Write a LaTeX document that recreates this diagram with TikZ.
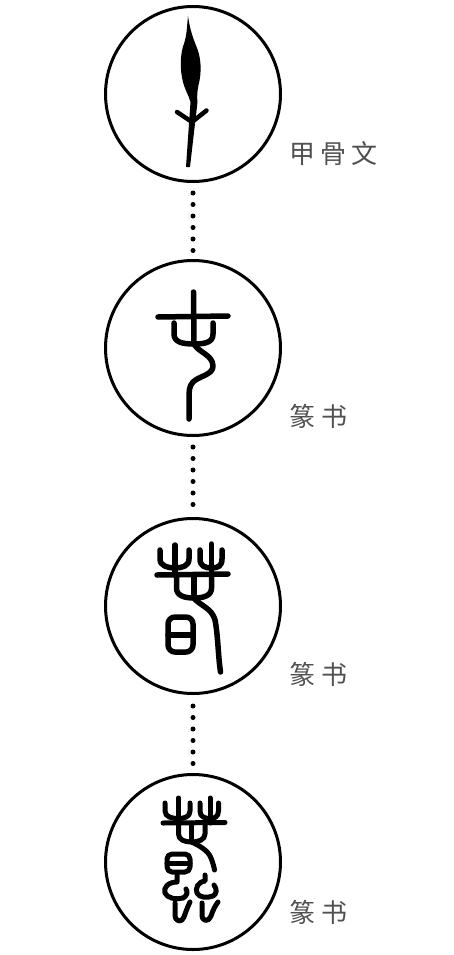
\documentclass[tikz,border=0pt]{standalone}
\usepackage{fontspec}
\usepackage{xcolor}
\newfontfamily\cjk{Noto Sans CJK SC}
\definecolor{labelgray}{HTML}{505050}

\begin{document}
\begin{tikzpicture}[x=1pt, y=-1pt, line cap=round, line join=round,
  ring/.style={circle, draw, line width=3pt, minimum size=175pt, inner sep=0pt},
  linkdots/.style={line width=5pt, dash pattern=on 0pt off 11.5pt},
  gstroke/.style={line width=5.5pt},
  sstroke/.style={line width=5pt},
  lbl/.style={anchor=west, inner sep=0pt, text=labelgray, font=\cjk\fontsize{26}{26}\selectfont}]
  \useasboundingbox (0,0) rectangle (453,955);

  % Circles
  \node[ring] (c1) at (193,94) {};
  \node[ring] (c2) at (193,348) {};
  \node[ring] (c3) at (193,606) {};
  \node[ring] (c4) at (193,862) {};

  % Dotted links
  \draw[linkdots, shorten <=10pt, shorten >=8pt] (c1) -- (c2);
  \draw[linkdots, shorten <=10pt, shorten >=12pt] (c2) -- (c3);
  \draw[linkdots, shorten <=11pt, shorten >=9pt] (c3) -- (c4);

  % Labels
  \node[lbl] (l1) at (289,154) {甲\hspace{5pt}骨\hspace{5pt}文};
  \node[lbl] (l2) at (289,416) {篆\hspace{6pt}书};
  \node[lbl] (l3) at (289,674) {篆\hspace{6pt}书};
  \node[lbl] (l4) at (289,912) {篆\hspace{6pt}书};

  % Oracle bone form
  \fill (188,16) .. controls (190,30) and (193,38) .. (197,48)
    .. controls (201,58) and (202,72) .. (198.5,85)
    .. controls (197,92) and (197,98) .. (197.5,102)
    -- (190,167) -- (186,167) -- (190.5,102)
    .. controls (189,96) and (185,90) .. (183,82)
    .. controls (180,70) and (179.5,55) .. (184.5,42)
    .. controls (187,34) and (187,25) .. (188,16) -- cycle;
  \draw[line width=4.5pt] (177,112) -- (192,122) -- (206.5,110.5);

  % Seal form 1
  \draw[gstroke] (158,317) -- (228,316);
  \draw[gstroke] (193.5,292) -- (194,343);
  \draw[gstroke] (174,323) -- (174,334) .. controls (174,342) and (182,344) .. (194,344)
    .. controls (206,344) and (213,342) .. (213,334) -- (213,323);
  \draw[gstroke] (194,344) .. controls (198,352) and (213,355) .. (213,366)
    .. controls (213,375) and (199,376) .. (193,382)
    .. controls (189,386) and (189,392) .. (189,398) -- (189,419);

  % Seal form 2
  \draw[gstroke] (157,575) -- (228,574);
  \draw[gstroke] (175,545) -- (175,575);
  \draw[gstroke] (160,550) -- (160,559) .. controls (160,566) and (168,568) .. (175,568)
    .. controls (182,568) and (189,566) .. (189,559) -- (189,550);
  \draw[gstroke] (211.5,544) -- (211.5,575);
  \draw[gstroke] (200,550) -- (200,559) .. controls (200,566) and (205,568) .. (211.5,568)
    .. controls (218,568) and (222,566) .. (222,559) -- (222,550);
  \draw[gstroke] (176.5,575) -- (176.5,588) .. controls (176.5,596) and (185,598) .. (194,598)
    .. controls (203,598) and (211.5,596) .. (211.5,588) -- (211.5,575);
  \draw[gstroke] (194,575) -- (194,598);
  \draw[gstroke] (194,598) .. controls (199,605) and (212,608) .. (215,620)
    .. controls (218,635) and (218,655) .. (220.5,672);
  \draw[gstroke, rounded corners=7pt] (168,617) rectangle (193,652);
  \draw[gstroke] (168,635) -- (193,635);

  % Seal form 3
  \draw[sstroke] (163,823) -- (225,822.5);
  \draw[sstroke] (178.5,798) -- (178.5,823);
  \draw[sstroke] (165,803) -- (165,811) .. controls (165,817) and (172,818.5) .. (178.5,818.5)
    .. controls (184,818.5) and (190,817) .. (190,811) -- (190,803);
  \draw[sstroke] (210,798) -- (210,823);
  \draw[sstroke] (200,803) -- (200,811) .. controls (200,817) and (205,818.5) .. (210,818.5)
    .. controls (214,818.5) and (218.5,817) .. (218.5,811) -- (218.5,803);
  \draw[sstroke] (178.5,823) -- (178.5,834) .. controls (178.5,840) and (185,842) .. (191.5,842)
    .. controls (198,842) and (205,840) .. (205,834) -- (205,823);
  \draw[sstroke] (191.5,823) -- (191.5,842);
  \draw[sstroke] (191.5,842) .. controls (198,845) and (208,850) .. (211,858)
    .. controls (213,863) and (214,867) .. (214.5,870);
  \draw[sstroke, rounded corners=5pt] (167,854) rectangle (190,872);
  \draw[sstroke] (167,863) -- (190,863);
  \draw[sstroke] (177,875) -- (177,882) .. controls (168,882) and (163,888) .. (165,893)
    .. controls (167,898) and (176,900) .. (183,898) .. controls (187,896) and (188,892) .. (186,889);
  \draw[sstroke] (175,903) -- (175,915) .. controls (175,922) and (182,923) .. (184,917)
    .. controls (186,911) and (188,906) .. (190,902);
  \draw[sstroke] (205,875) -- (205,881) .. controls (198,882) and (195,888) .. (197,893)
    .. controls (199,898) and (208,898) .. (213,896) .. controls (217,894) and (217,889) .. (214,885);
  \draw[sstroke] (202,903) -- (202,915) .. controls (202,922) and (209,922) .. (211,916)
    .. controls (213,910) and (215,906) .. (218,902);
\end{tikzpicture}
\end{document}
